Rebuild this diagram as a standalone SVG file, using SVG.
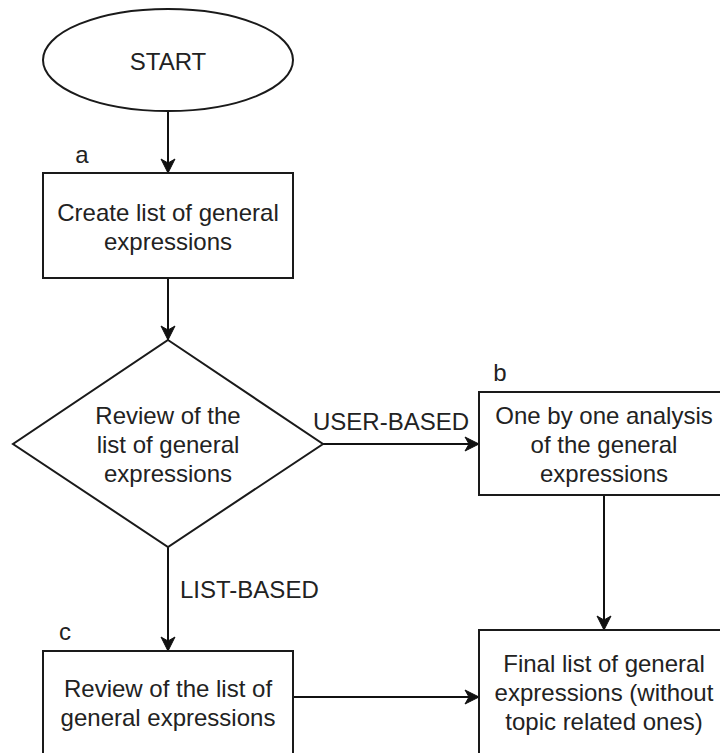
<svg xmlns="http://www.w3.org/2000/svg" width="720" height="753" viewBox="0 0 720 753">
  <style>
    .shape { fill: #ffffff; stroke: #1a1a1a; stroke-width: 2; }
    .edge { fill: none; stroke: #111111; stroke-width: 2; }
    text { font-family: "Liberation Sans", Arial, Helvetica, sans-serif; font-size: 24px; fill: #222222; }
    .c { text-anchor: middle; }
  </style>
  <defs>
    <marker id="arrow" markerUnits="userSpaceOnUse" markerWidth="16" markerHeight="16" viewBox="0 0 16 16" refX="15" refY="8" orient="auto">
      <path d="M1,1 L15,8 L1,15 L5,8 Z" fill="#111111" stroke="#111111" stroke-width="1"/>
    </marker>
  </defs>
  <rect width="720" height="753" fill="#ffffff"/>

  <g id="connectors">
    <line class="edge" x1="168" y1="111" x2="168" y2="173" marker-end="url(#arrow)"/>
    <line class="edge" x1="168" y1="278" x2="168" y2="340" marker-end="url(#arrow)"/>
    <line class="edge" x1="323" y1="444" x2="479" y2="444" marker-end="url(#arrow)"/>
    <line class="edge" x1="604" y1="495" x2="604" y2="630" marker-end="url(#arrow)"/>
    <line class="edge" x1="168" y1="547" x2="168" y2="651" marker-end="url(#arrow)"/>
    <line class="edge" x1="293" y1="697" x2="479" y2="697" marker-end="url(#arrow)"/>
    <text x="313" y="430">USER-BASED</text>
    <text x="180" y="598">LIST-BASED</text>
  </g>

  <g id="start">
    <ellipse class="shape" cx="168" cy="60" rx="125" ry="51"/>
    <text class="c" x="168" y="70">START</text>
  </g>

  <g id="step-a">
    <text class="c" x="82" y="163">a</text>
    <rect class="shape" x="43" y="173" width="250" height="105"/>
    <text class="c" x="168" y="221">Create list of general</text>
    <text class="c" x="168" y="250">expressions</text>
  </g>

  <g id="decision">
    <polygon class="shape" points="168,340 323,444 168,547 13,444"/>
    <text class="c" x="168" y="424">Review of the</text>
    <text class="c" x="168" y="453">list of general</text>
    <text class="c" x="168" y="482">expressions</text>
  </g>

  <g id="step-b">
    <text class="c" x="500" y="381">b</text>
    <rect class="shape" x="479" y="392" width="250" height="103"/>
    <text class="c" x="604" y="424">One by one analysis</text>
    <text class="c" x="604" y="453">of the general</text>
    <text class="c" x="604" y="482">expressions</text>
  </g>

  <g id="step-c">
    <text class="c" x="65" y="640">c</text>
    <rect class="shape" x="43" y="651" width="250" height="110"/>
    <text class="c" x="168" y="697">Review of the list of</text>
    <text class="c" x="168" y="726">general expressions</text>
  </g>

  <g id="final">
    <rect class="shape" x="479" y="630" width="250" height="130"/>
    <text class="c" x="604" y="672">Final list of general</text>
    <text class="c" x="604" y="701">expressions (without</text>
    <text class="c" x="604" y="730">topic related ones)</text>
  </g>
</svg>
